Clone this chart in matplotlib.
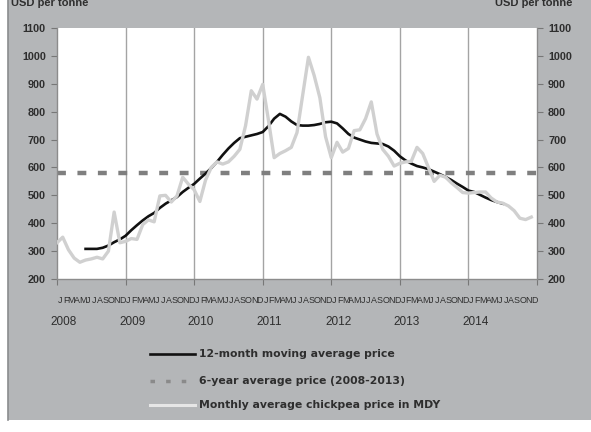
import matplotlib
matplotlib.use("Agg")
import matplotlib.pyplot as plt
from matplotlib.patches import Rectangle
from matplotlib.lines import Line2D

# ---------------- data ----------------
months = ["J", "F", "M", "A", "M", "J", "J", "A", "S", "O", "N", "D"]
years = ["2008", "2009", "2010", "2011", "2012", "2013", "2014"]

monthly_price = [330, 350, 305, 275, 260, 268, 272, 278, 272, 300, 440, 330,
                 335, 345, 342, 395, 412, 405, 498, 500, 476, 498, 565, 540,
                 520, 478, 555, 600, 620, 612, 620, 640, 665, 750, 875, 845,
                 898, 770, 635, 650, 660, 672, 725, 860, 995, 930, 850, 710,
                 635, 690, 655, 668, 732, 735, 775, 835, 720, 665, 640, 605,
                 615, 620, 622, 672, 650, 600, 550, 572, 565, 545, 528, 510,
                 508, 510, 512, 512, 490, 476, 472, 462, 445, 418, 413, 422]

ma_start = 5
moving_avg = [308, 308, 308, 312, 320, 332, 342,
              355, 375, 393, 410, 425, 437, 455, 470, 482, 494, 512, 527,
              541, 560, 578, 598, 620, 645, 668, 688, 705, 710, 715, 720,
              727, 748, 775, 792, 782, 765, 752, 750, 750, 752, 756, 762,
              764, 758, 740, 720, 707, 700, 693, 688, 686, 684, 675, 660,
              640, 625, 614, 605, 600, 594, 585, 576, 566, 555, 542, 530,
              517, 512, 502, 492, 483, 476, 470]

six_year_avg = 580

legend_labels = ["12-month moving average price",
                 "6-year average price (2008-2013)",
                 "Monthly average chickpea price in MDY"]

# ---------------- figure ----------------
W, H = 591, 432
fig = plt.figure(figsize=(W / 100, H / 100), dpi=100)
fig.patch.set_facecolor("white")
bg = "#b4b6b8"
fig.patches.append(Rectangle((8 / W, 1 - 420 / H), 1 - 8 / W, 420 / H,
                             transform=fig.transFigure, facecolor=bg,
                             edgecolor="none", zorder=-10))
fig.lines.append(Line2D([8 / W, 8 / W], [1 - 420 / H, 1], transform=fig.transFigure,
                        color="#8a8c8e", lw=1.2, zorder=-9))

FONT = "Liberation Sans"
LFONT = "DejaVu Sans"
TXT = "#2e2e2e"

ax = fig.add_axes([57 / W, 1 - 279 / H, 480 / W, 251 / H])
ax.set_zorder(1)
ax.set_facecolor("white")

n = len(monthly_price)
x_month = list(range(n))
x_ma = list(range(ma_start, ma_start + len(moving_avg)))

for k in range(1, len(years)):
    ax.axvline(12 * k, color="#a4a4a4", lw=1.0, zorder=1)

ax.axhline(six_year_avg, color="#7f7f7f", lw=3.2, dashes=(2.0, 2.6),
           dash_capstyle="butt", zorder=2)
ax.plot(x_ma, moving_avg, color="#111111", lw=1.9, zorder=3,
        solid_joinstyle="round")
ax.plot(x_month, monthly_price, color="#d0d0d0", lw=2.4, zorder=4,
        solid_joinstyle="round")

ax.set_xlim(0, 84)
ax.set_ylim(200, 1100)
ax.set_yticks(range(200, 1101, 100))
ax.tick_params(axis="y", which="both", left=True, right=True, labelleft=True,
               labelright=True, length=4, width=0.8, color="#777777",
               labelsize=7.8, labelcolor=TXT, pad=4)
for lab in ax.get_yticklabels():
    lab.set_fontfamily(FONT)
    lab.set_fontweight("bold")

ax.set_xticks([12 * k for k in range(len(years) + 1)])
ax.set_xticklabels([])
ax.tick_params(axis="x", length=4, width=0.8, color="#777777")

for s in ["left", "right", "bottom"]:
    ax.spines[s].set_color("#8c8c8c")
    ax.spines[s].set_linewidth(1.0)
ax.spines["top"].set_visible(False)

# month letters and year labels
for i in range(n):
    ax.text(i + 0.5, -0.085, months[i % 12], transform=ax.get_xaxis_transform(),
            ha="center", va="center", fontsize=6.4, family=FONT, color=TXT)
for k, yr in enumerate(years):
    ax.text(12 * k + 1.2, -0.17, yr, transform=ax.get_xaxis_transform(),
            ha="center", va="center", fontsize=8.5, family=FONT, color=TXT)

# axis titles (partially clipped at the top, as in the reference)
fig.text(11 / W, 1 - 6 / H, "USD per tonne", ha="left", va="baseline",
         fontsize=8, family=FONT, fontweight="bold", color=TXT)
fig.text(572 / W, 1 - 6 / H, "USD per tonne", ha="right", va="baseline",
         fontsize=8, family=FONT, fontweight="bold", color=TXT)

# legend (drawn manually in figure pixels)
rows = [354, 381, 405]
x0, x1 = 150, 195
fig.lines.append(Line2D([x0 / W, x1 / W], [1 - rows[0] / H] * 2,
                        transform=fig.transFigure, color="#111111", lw=1.9))
fig.lines.append(Line2D([x0 / W, x1 / W], [1 - rows[1] / H] * 2,
                        transform=fig.transFigure, color="#8a8a8a", lw=2.5,
                        dashes=(1.3, 3.2), dash_capstyle="butt"))
fig.lines.append(Line2D([x0 / W, x1 / W], [1 - rows[2] / H] * 2,
                        transform=fig.transFigure, color="#e6e6e6", lw=2.2))
for r, lab in zip(rows, legend_labels):
    fig.text(199 / W, 1 - r / H, lab, ha="left", va="center", fontsize=7.8,
             family=LFONT, fontweight="bold", color=TXT)

fig.savefig("out.png", dpi=100, facecolor=fig.get_facecolor())
